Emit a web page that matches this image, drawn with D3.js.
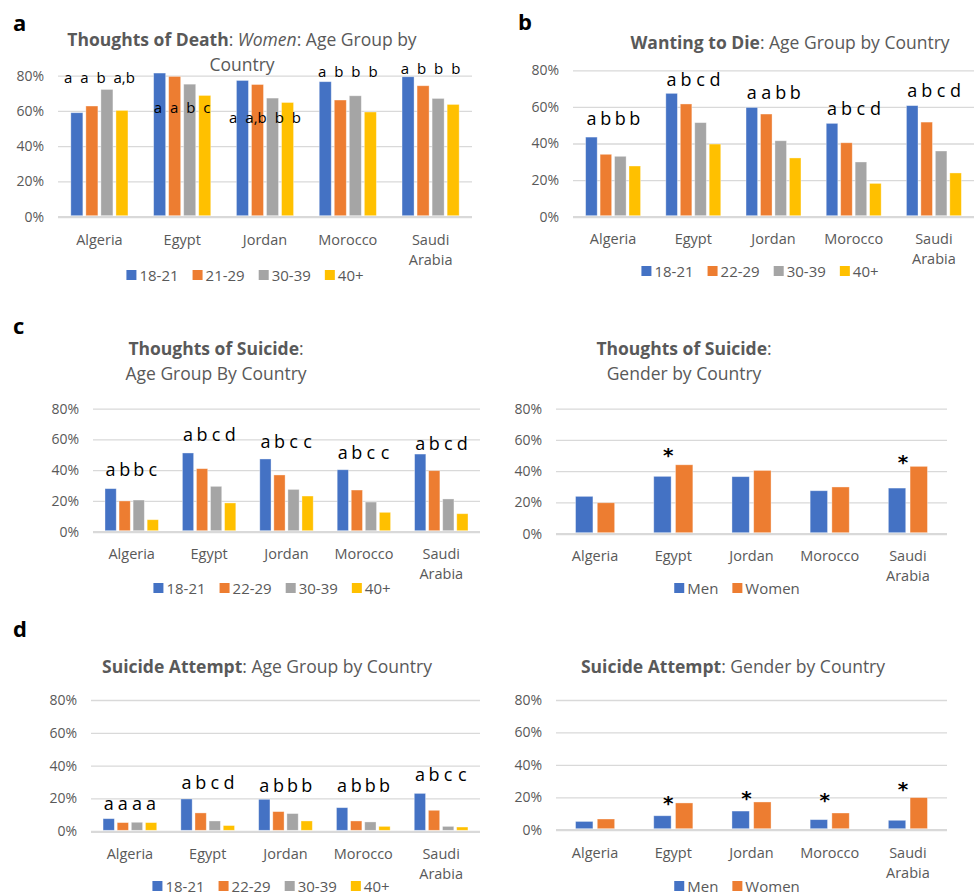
<!DOCTYPE html>
<html>
<head>
<meta charset="utf-8">
<script src="https://cdn.jsdelivr.net/npm/d3@7"></script>
<style>
  html, body { margin: 0; padding: 0; background: #ffffff; }
  svg { display: block; font-family: "Open Sans", sans-serif; }
</style>
</head>
<body>
<svg id="fig" width="975" height="895"></svg>
<script>
// ---- data -------------------------------------------------------------
const countries = ["Algeria", "Egypt", "Jordan", "Morocco", "Saudi Arabia"];
const ageGroupsDeath = ["18-21", "21-29", "30-39", "40+"];
const ageGroups = ["18-21", "22-29", "30-39", "40+"];
const genders = ["Men", "Women"];
const yTicks = [0, 20, 40, 60, 80];

// rows = series, columns = countries (percent)
const deathWomenByAge = [
  [59.0, 81.5, 77.3, 76.6, 79.4],
  [62.8, 79.6, 75.0, 66.2, 74.3],
  [72.2, 75.2, 67.3, 68.6, 67.1],
  [60.3, 68.8, 64.8, 59.4, 63.7]
];
const wantDieByAge = [
  [43.5, 67.4, 59.7, 51.0, 60.7],
  [34.1, 61.6, 56.1, 40.4, 51.7],
  [33.0, 51.4, 41.5, 29.9, 35.9],
  [27.7, 39.7, 32.1, 18.2, 23.9]
];
const suicideThoughtsByAge = [
  [28.0, 51.2, 47.3, 40.3, 50.5],
  [20.0, 41.0, 36.9, 27.1, 39.7],
  [20.6, 29.5, 27.5, 19.3, 21.3],
  [7.8, 18.7, 23.2, 12.6, 11.7]
];
const suicideThoughtsByGender = [
  [23.9, 36.7, 36.5, 27.5, 29.2],
  [19.8, 44.1, 40.5, 29.9, 43.1]
];
const attemptByAge = [
  [7.7, 19.7, 19.5, 14.4, 23.1],
  [5.3, 11.2, 12.0, 6.3, 12.8],
  [5.5, 6.3, 10.8, 5.7, 3.0],
  [5.3, 3.5, 6.3, 3.0, 2.6]
];
const attemptByGender = [
  [5.1, 8.6, 11.5, 6.2, 5.8],
  [6.6, 16.5, 17.1, 10.3, 19.8]
];

// significance letters, one per bar, per country
const deathLetters = [["a","a","b","a,b"], ["a","a","b","c"], ["a","a,b","b","b"], ["a","b","b","b"], ["a","b","b","b"]];
const wantDieLetters = [["a","b","b","b"], ["a","b","c","d"], ["a","a","b","b"], ["a","b","c","d"], ["a","b","c","d"]];
const thoughtsLetters = [["a","b","b","c"], ["a","b","c","d"], ["a","b","c","c"], ["a","b","c","c"], ["a","b","c","d"]];
const attemptLetters = [["a","a","a","a"], ["a","b","c","d"], ["a","b","b","b"], ["a","b","b","b"], ["a","b","c","c"]];
// value level (percent) at which each country's letter row sits
const deathLetterLevel = [79.3, 62.2, 56.7, 82.7, 84.2];
const wantDieLetterLevel = [54.0, 75.3, 68.2, 59.4, 69.3];
const thoughtsLetterLevel = [40.8, 63.5, 59.0, 51.8, 57.7];
const attemptLetterLevel = [17.2, 30.0, 28.2, 28.2, 34.9];

// gender differences marked significant
const thoughtsGenderSig = [false, true, false, false, true];
const thoughtsGenderSigLevel = [0, 51.6, 0, 0, 47.2];
const attemptGenderSig = [false, true, true, true, true];
const attemptGenderSigLevel = [0, 17.7, 20.8, 19.6, 26.3];

// ---- style ------------------------------------------------------------
const ageColors = ["#4472C4", "#ED7D31", "#A5A5A5", "#FFC000"];
const genderColors = ["#4472C4", "#ED7D31"];
const textGray = "#595959";
const gridGray = "#d9d9d9";

const svg = d3.select("#fig");

function panelLetter(txt, x, y) {
  svg.append("text").attr("x", x).attr("y", y)
    .attr("dominant-baseline", "central")
    .attr("font-weight", 700).attr("font-size", 22).attr("fill", "#000")
    .text(txt);
}

function drawChart(cfg) {
  const g = svg.append("g");
  const y = d3.scaleLinear().domain([0, 80]).range([cfg.y0, cfg.y80]);
  const x0 = d3.scaleBand().domain(countries).range([cfg.left, cfg.right])
    .paddingInner(cfg.groupPad).paddingOuter(cfg.groupPad / 2);
  const x1 = d3.scaleBand().domain(cfg.series).range([0, x0.bandwidth()])
    .paddingInner(0.2).paddingOuter(0);

  // gridlines + tick labels
  const axis = d3.axisLeft(y).tickValues(yTicks).tickFormat(d => d + "%")
    .tickSize(-(cfg.right - cfg.left)).tickPadding(14);
  const ag = g.append("g").attr("transform", `translate(${cfg.left},0)`).call(axis);
  ag.select(".domain").remove();
  ag.selectAll(".tick line").attr("stroke", gridGray).attr("stroke-width", 1.3);
  ag.selectAll(".tick").filter(d => d === 0).select("line").attr("stroke-width", 2.2);
  ag.selectAll(".tick text").attr("fill", textGray).attr("font-size", 14)
    .attr("font-family", "'Open Sans', sans-serif");

  // bars
  cfg.values.forEach((row, si) => {
    g.append("g").selectAll("rect").data(row).join("rect")
      .attr("x", (d, ci) => x0(countries[ci]) + x1(cfg.series[si]))
      .attr("y", d => y(d))
      .attr("width", x1.bandwidth())
      .attr("height", d => y(0) - y(d) - 1)
      .attr("fill", cfg.colors[si])
      .attr("stroke", "#ffffff").attr("stroke-opacity", 0.45).attr("stroke-width", 0.8);
  });

  // category labels
  const cl = g.append("g");
  countries.forEach(c => {
    const words = c === "Saudi Arabia" ? ["Saudi", "Arabia"] : [c];
    words.forEach((w, i) => {
      cl.append("text")
        .attr("x", x0(c) + x0.bandwidth() / 2)
        .attr("y", cfg.catY + i * 20)
        .attr("text-anchor", "middle").attr("dominant-baseline", "central")
        .attr("fill", textGray).attr("font-size", 14.5)
        .text(w);
    });
  });

  // significance letters
  if (cfg.letters) {
    cfg.letters.forEach((lts, ci) => {
      if (cfg.letterRow) {
        // one spaced row of letters centred over the country group
        g.append("text")
          .attr("x", x0(countries[ci]) + x0.bandwidth() / 2)
          .attr("y", y(cfg.letterLevel[ci]))
          .attr("text-anchor", "middle").attr("dominant-baseline", "central")
          .attr("font-size", cfg.letterSize).attr("fill", "#000")
          .attr("word-spacing", 4)
          .text(lts.join(" "));
      } else {
        lts.forEach((t, si) => {
          g.append("text")
            .attr("x", x0(countries[ci]) + x1(cfg.series[si]) + x1.bandwidth() / 2)
            .attr("y", y(cfg.letterLevel[ci]))
            .attr("text-anchor", "middle").attr("dominant-baseline", "central")
            .attr("font-size", cfg.letterSize).attr("fill", "#000")
            .text(t);
        });
      }
    });
  }
  // asterisks
  if (cfg.sig) {
    cfg.sig.forEach((s, ci) => {
      if (!s) return;
      g.append("text")
        .attr("x", x0(countries[ci]) + x0.bandwidth() / 2 - 5)
        .attr("y", y(cfg.sigLevel[ci]) + 9)
        .attr("text-anchor", "middle")
        .attr("font-size", 20).attr("font-weight", 700).attr("fill", "#000")
        .attr("font-family", "'DejaVu Sans', sans-serif")
        .text("*");
    });
  }

  // title
  const tg = g.append("g");
  cfg.title.forEach((line, li) => {
    const t = tg.append("text")
      .attr("x", cfg.titleX).attr("y", cfg.titleY + li * 25)
      .attr("text-anchor", "middle").attr("dominant-baseline", "central")
      .attr("fill", textGray).attr("font-size", 17.5);
    line.forEach(seg => {
      t.append("tspan")
        .attr("font-weight", seg.b ? 700 : 400)
        .attr("font-style", seg.i ? "italic" : "normal")
        .text(seg.t);
    });
  });

  // legend, centred at legendX
  const lg = g.append("g");
  let cx = 0;
  cfg.series.forEach((s, si) => {
    const item = lg.append("g").attr("transform", `translate(${cx},0)`);
    item.append("rect").attr("x", 0).attr("y", -5).attr("width", 10).attr("height", 10)
      .attr("fill", cfg.colors[si]);
    const tx = item.append("text").attr("x", 13).attr("y", 0)
      .attr("dominant-baseline", "central").attr("fill", textGray)
      .attr("font-size", 15).text(s);
    cx += 13 + tx.node().getComputedTextLength() + cfg.legendGap;
  });
  const lw = cx - cfg.legendGap;
  lg.attr("transform", `translate(${cfg.legendX - lw / 2},${cfg.legendY})`);
}

// ---- panels -----------------------------------------------------------
panelLetter("a", 13, 22);
drawChart({
  values: deathWomenByAge, series: ageGroupsDeath, colors: ageColors,
  left: 58, right: 472, y0: 216.7, y80: 75.7, groupPad: 0.31, catY: 239,
  letters: deathLetters, letterLevel: deathLetterLevel, letterSize: 15, letterRow: true,
  title: [[{t: "Thoughts of Death", b: true}, {t: ": "}, {t: "Women", i: true}, {t: ": Age Group by"}],
          [{t: "Country"}]],
  titleX: 242, titleY: 39, legendX: 245, legendY: 275, legendGap: 14
});

panelLetter("b", 518, 21);
drawChart({
  values: wantDieByAge, series: ageGroups, colors: ageColors,
  left: 573, right: 974, y0: 216.7, y80: 70.3, groupPad: 0.315, catY: 238,
  letters: wantDieLetters, letterLevel: wantDieLetterLevel, letterSize: 18,
  title: [[{t: "Wanting to Die", b: true}, {t: ": Age Group by Country"}]],
  titleX: 790, titleY: 42, legendX: 760, legendY: 271, legendGap: 14
});

panelLetter("c", 13, 325);
drawChart({
  values: suicideThoughtsByAge, series: ageGroups, colors: ageColors,
  left: 93, right: 480, y0: 531.7, y80: 408.7, groupPad: 0.31, catY: 553,
  letters: thoughtsLetters, letterLevel: thoughtsLetterLevel, letterSize: 18,
  title: [[{t: "Thoughts of Suicide", b: true}, {t: ":"}], [{t: "Age Group By Country"}]],
  titleX: 216, titleY: 348, legendX: 272, legendY: 588, legendGap: 14
});
drawChart({
  values: suicideThoughtsByGender, series: genders, colors: genderColors,
  left: 556, right: 947, y0: 533.7, y80: 408.7, groupPad: 0.5, catY: 555,
  sig: thoughtsGenderSig, sigLevel: thoughtsGenderSigLevel,
  title: [[{t: "Thoughts of Suicide", b: true}, {t: ":"}], [{t: "Gender by Country"}]],
  titleX: 684, titleY: 348, legendX: 737, legendY: 588, legendGap: 14
});

panelLetter("d", 13, 628);
drawChart({
  values: attemptByAge, series: ageGroups, colors: ageColors,
  left: 91, right: 480, y0: 831.3, y80: 700, groupPad: 0.31, catY: 853,
  letters: attemptLetters, letterLevel: attemptLetterLevel, letterSize: 18,
  title: [[{t: "Suicide Attempt", b: true}, {t: ": Age Group by Country"}]],
  titleX: 267, titleY: 666, legendX: 271, legendY: 886, legendGap: 14
});
drawChart({
  values: attemptByGender, series: genders, colors: genderColors,
  left: 556, right: 947, y0: 829.7, y80: 700, groupPad: 0.5, catY: 852,
  sig: attemptGenderSig, sigLevel: attemptGenderSigLevel,
  title: [[{t: "Suicide Attempt", b: true}, {t: ": Gender by Country"}]],
  titleX: 733, titleY: 666, legendX: 737, legendY: 886, legendGap: 14
});
</script>
</body>
</html>
